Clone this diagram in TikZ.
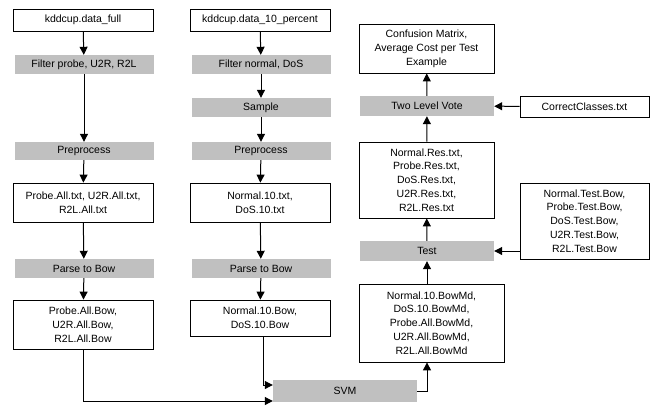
\documentclass[tikz,border=0pt]{standalone}
\usepackage{fontspec}
\setmainfont{Liberation Sans}
\usetikzlibrary{arrows.meta}
\definecolor{stepgray}{RGB}{192,192,192}

\begin{document}
\begin{tikzpicture}[x=1pt,y=-1pt,
	font=\fontsize{10.5}{13.8}\selectfont,
	filebox/.style={draw=black,line width=0.8pt,fill=white,align=center,inner sep=0pt},
	stepbox/.style={fill=stepgray,align=center,inner sep=0pt},
	flow/.style={line width=1pt,-{Triangle[length=8pt,width=8pt]}}]
	\useasboundingbox (0,0) rectangle (662,405);
	% left column
	\node[filebox,minimum width=140pt,minimum height=22pt] (full) at (83,20) {kddcup.data\_full};
	\node[stepbox,minimum width=139pt,minimum height=19pt] (filtA) at (84,64.5) {Filter probe, U2R, R2L};
	\node[stepbox,minimum width=139pt,minimum height=18pt] (preA) at (84,151) {Preprocess};
	\node[filebox,minimum width=140pt,minimum height=39pt] (txtA) at (83,202.5) {Probe.All.txt, U2R.All.txt,\\R2L.All.txt};
	\node[stepbox,minimum width=139pt,minimum height=19pt] (parseA) at (84,268.5) {Parse to Bow};
	\node[filebox,minimum width=140pt,minimum height=49pt] (bowA) at (83,324.5) {Probe.All.Bow,\\U2R.All.Bow,\\R2L.All.Bow};
	% middle column
	\node[filebox,minimum width=140pt,minimum height=22pt] (part) at (260,20) {kddcup.data\_10\_percent};
	\node[stepbox,minimum width=139pt,minimum height=19pt] (filtB) at (261,64.5) {Filter normal, DoS};
	\node[stepbox,minimum width=139pt,minimum height=19pt] (samp) at (261,107.5) {Sample};
	\node[stepbox,minimum width=139pt,minimum height=18pt] (preB) at (261,151) {Preprocess};
	\node[filebox,minimum width=140pt,minimum height=39pt] (txtB) at (260,202.5) {Normal.10.txt,\\DoS.10.txt};
	\node[stepbox,minimum width=139pt,minimum height=19pt] (parseB) at (261,268.5) {Parse to Bow};
	\node[filebox,minimum width=140pt,minimum height=36pt] (bowB) at (260,318) {Normal.10.Bow,\\DoS.10.Bow};
	\node[stepbox,minimum width=144pt,minimum height=22pt] (svm) at (345,391) {SVM};
	% right column
	\node[filebox,minimum width=145pt,minimum height=78pt] (mdl) at (431.5,323) {Normal.10.BowMd,\\DoS.10.BowMd,\\Probe.All.BowMd,\\U2R.All.BowMd,\\R2L.All.BowMd};
	\node[stepbox,minimum width=134pt,minimum height=20pt] (test) at (427,251) {Test};
	\node[filebox,minimum width=135pt,minimum height=76pt] (res) at (426.5,180) {Normal.Res.txt,\\Probe.Res.txt,\\DoS.Res.txt,\\U2R.Res.txt,\\R2L.Res.txt};
	\node[stepbox,minimum width=134pt,minimum height=20pt] (vote) at (427,106) {Two Level Vote};
	\node[filebox,minimum width=135pt,minimum height=49pt] (conf) at (426.5,48.5) {Confusion Matrix,\\Average Cost per Test\\Example};
	\node[filebox,minimum width=129pt,minimum height=21pt] (corr) at (584.5,106.5) {CorrectClasses.txt};
	\node[filebox,minimum width=129pt,minimum height=76pt] (tbow) at (584.5,221) {Normal.Test.Bow,\\Probe.Test.Bow,\\DoS.Test.Bow,\\U2R.Test.Bow,\\R2L.Test.Bow};
	% arrows
	\draw[flow] (full) -- (filtA);
	\draw[flow] (filtA) -- (preA);
	\draw[flow] (preA) -- (txtA);
	\draw[flow] (txtA) -- (parseA);
	\draw[flow] (parseA) -- (bowA);
	\draw[flow] (part) -- (filtB);
	\draw[flow] (filtB) -- (samp);
	\draw[flow] (samp) -- (preB);
	\draw[flow] (preB) -- (txtB);
	\draw[flow] (txtB) -- (parseB);
	\draw[flow] (parseB) -- (bowB);
	\draw[flow] (bowA.south) |- ([yshift=-10pt]svm.west);
	\draw[flow] ([xshift=3pt]bowB.south) |- ([yshift=6pt]svm.west);
	\draw[flow] (svm.east) -| ([xshift=-4.5pt]mdl.south);
	\draw[flow] ([xshift=-4.5pt]mdl.north) -- (test);
	\draw[flow] (test) -- (res);
	\draw[flow] (res) -- (vote);
	\draw[flow] (vote) -- (conf);
	\draw[flow] (corr) -- (vote);
	\draw[flow] (tbow.west |- test) -- (test.east);
\end{tikzpicture}
\end{document}
